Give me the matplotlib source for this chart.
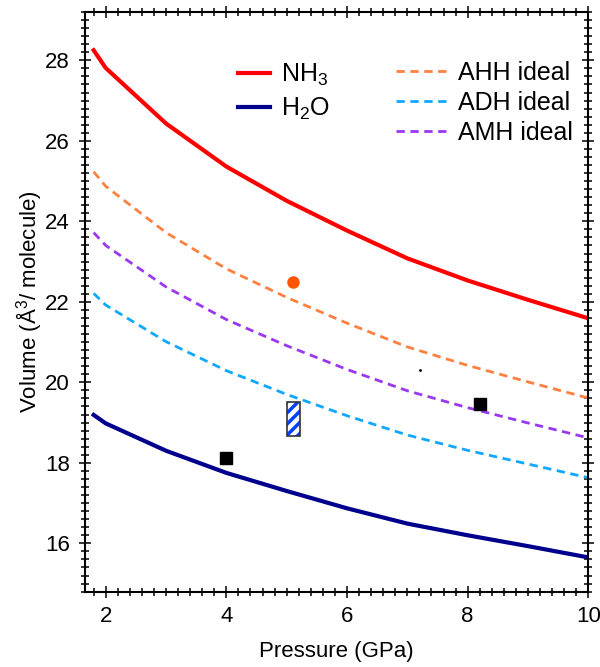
import matplotlib
matplotlib.use("Agg")
import matplotlib.pyplot as plt
from matplotlib.patches import Rectangle
from matplotlib.ticker import MultipleLocator

plt.rcParams["font.family"] = ["Liberation Sans", "DejaVu Sans"]
plt.rcParams["mathtext.fontset"] = "custom"
plt.rcParams["mathtext.rm"] = "Liberation Sans"
plt.rcParams["mathtext.it"] = "Liberation Sans:italic"
plt.rcParams["hatch.linewidth"] = 2.5

# pressures (GPa) and volumes (A^3 / molecule)
pressure = [1.8, 2, 3, 4, 5, 6, 7, 8, 9, 10]
v_nh3 = [28.25, 27.81, 26.43, 25.36, 24.51, 23.77, 23.08, 22.53, 22.05, 21.59]
v_h2o = [19.19, 18.98, 18.30, 17.75, 17.30, 16.87, 16.49, 16.20, 15.93, 15.65]
v_ahh = [25.23, 24.87, 23.72, 22.82, 22.11, 21.47, 20.88, 20.42, 20.01, 19.61]
v_adh = [22.21, 21.92, 21.01, 20.29, 19.70, 19.17, 18.69, 18.31, 17.97, 17.63]
v_amh = [23.72, 23.40, 22.37, 21.56, 20.91, 20.32, 19.79, 19.37, 18.99, 18.62]

# measured points
circle_p, circle_v = [5.10], [22.49]
square_p, square_v = [4.0, 8.20], [18.11, 19.46]
dot_p, dot_v = [7.21], [20.31]
box_p = [5.0, 5.22]
box_v = [18.67, 19.52]

fig = plt.figure(figsize=(6, 6.67), dpi=100)
ax = fig.add_axes([0.141, 0.113, 0.8395, 0.869])

l1, = ax.plot(pressure, v_nh3, color="#ff0000", lw=3, label="NH$_3$")
l2, = ax.plot(pressure, v_h2o, color="#00008c", lw=3, label="H$_2$O")
d1, = ax.plot(pressure, v_ahh, color="#ff8040", lw=2, dashes=(3, 2), label="AHH ideal")
d2, = ax.plot(pressure, v_adh, color="#10a8ff", lw=2, dashes=(3, 2), label="ADH ideal")
d3, = ax.plot(pressure, v_amh, color="#9a38f0", lw=2, dashes=(3, 2), label="AMH ideal")

ax.plot(circle_p, circle_v, "o", color="#ff5500", ms=9, mec="none")
ax.plot(square_p, square_v, "s", color="black", ms=8.5)
ax.plot(dot_p, dot_v, ".", color="black", ms=2)

ax.add_patch(Rectangle((box_p[0], box_v[0]), box_p[1] - box_p[0], box_v[1] - box_v[0],
                       facecolor="white", edgecolor="#0040ff", hatch="///", lw=0))
ax.add_patch(Rectangle((box_p[0], box_v[0]), box_p[1] - box_p[0], box_v[1] - box_v[0],
                       facecolor="none", edgecolor="#333333", lw=1.2))

ax.set_xlim(1.65, 10)
ax.set_ylim(14.8, 29.2)
ax.xaxis.set_major_locator(MultipleLocator(2))
ax.xaxis.set_minor_locator(MultipleLocator(0.2))
ax.yaxis.set_major_locator(MultipleLocator(2))
ax.yaxis.set_minor_locator(MultipleLocator(0.2))
ax.tick_params(which="both", direction="inout", top=True, right=True, width=1.1,
               labelsize=16)
ax.tick_params(which="major", length=9, pad=6)
ax.tick_params(which="minor", length=6)
for s in ax.spines.values():
    s.set_linewidth(1.5)

ax.set_xlabel("Pressure (GPa)", fontsize=16, labelpad=10)
ax.set_ylabel("Volume (Å$^3$/ molecule)", fontsize=16, labelpad=0.5)

leg1 = ax.legend(handles=[l1, l2], loc="upper left", bbox_to_anchor=(0.304, 0.914),
                 frameon=False, fontsize=18, handlelength=1.3, handletextpad=0.42,
                 borderpad=0, borderaxespad=0, labelspacing=0.3)
ax.add_artist(leg1)
ax.legend(handles=[d1, d2, d3], loc="upper left", bbox_to_anchor=(0.618, 0.916),
          frameon=False, fontsize=18, handlelength=2.0, handletextpad=0.48,
          borderpad=0, borderaxespad=0, labelspacing=0.24)

fig.savefig("out.png", dpi=100)
